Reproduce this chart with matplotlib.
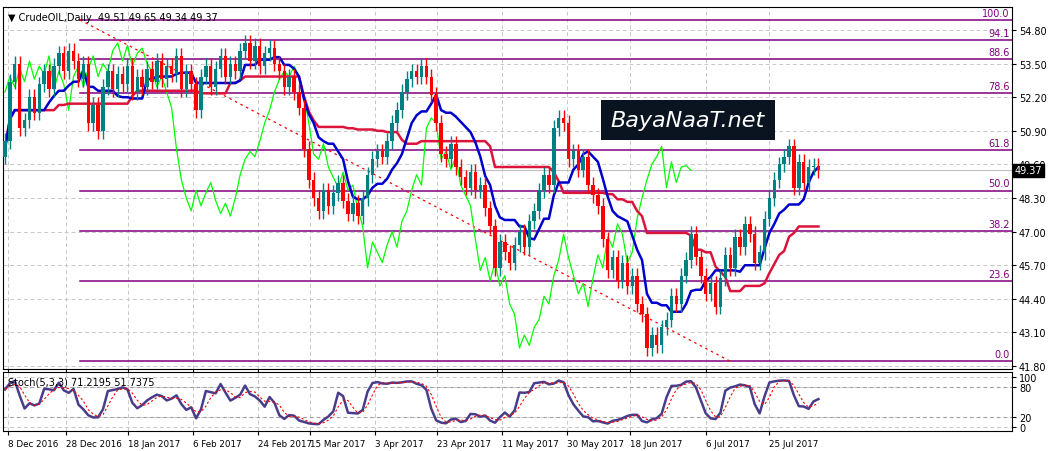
import matplotlib

matplotlib.use("Agg")

import matplotlib.pyplot as plt
import numpy as np
import pandas as pd

# daily closes
closes = [
    50.5, 52.8, 53.5, 51.0, 51.3, 52.2, 51.6, 52.7, 53.2, 52.5,
    53.4, 53.9, 53.2, 54.0, 53.6, 52.9, 53.5, 51.2, 51.9, 50.9,
    52.6, 53.2, 52.5, 53.1, 52.7, 53.4, 52.4, 53.0, 52.6, 53.3,
    52.8, 53.6, 52.9, 53.4, 53.1, 53.8, 52.5, 53.2, 52.7, 51.7,
    53.0, 53.4, 52.6, 53.3, 53.8, 53.0, 53.5, 53.2, 54.0, 54.3,
    53.6, 54.2, 53.4, 53.9, 54.1, 53.5, 53.2, 52.6, 53.0, 52.4,
    51.8, 50.2, 49.0, 48.3, 47.8, 48.6, 48.0, 48.5, 48.9, 48.2,
    47.7, 48.1, 47.6, 48.3, 49.2, 49.8, 50.1, 49.9, 50.5, 51.2,
    51.7, 52.4, 52.9, 53.2, 53.0, 53.4, 53.0, 52.3, 51.2, 50.0,
    49.8, 50.4, 49.5, 49.1, 48.7, 49.3, 48.6, 48.8, 47.9, 47.2,
    45.6, 46.6, 46.2, 45.8, 46.5, 47.0, 46.4, 47.4, 47.8, 48.6,
    49.2, 48.8, 51.0, 51.4, 51.2, 49.8, 50.1, 49.4, 49.9, 48.8,
    48.4, 48.0, 46.7, 45.5, 46.0, 45.1, 45.8, 44.9, 45.3, 44.2,
    43.8, 42.5, 43.0, 42.6, 43.3, 43.6, 44.5, 44.2, 45.3, 45.9,
    46.9, 46.0, 45.3, 44.6, 45.0, 44.1, 45.2, 46.1, 45.6, 46.8,
    46.4, 47.3, 46.9, 45.8, 46.2, 47.5, 48.3, 49.0, 49.6, 49.9,
    50.3, 48.7, 49.7, 48.9, 49.5, 49.55, 49.37,
]
first_open = 49.9
wick = 0.3

date_ticks = [0.6, 12.4, 25.1, 38.4, 51.6, 62.2, 75.5, 88.2, 101.4, 114.7, 127.6, 143.0, 156.0]
date_labels = ["8 Dec 2016", "28 Dec 2016", "18 Jan 2017", "6 Feb 2017", "24 Feb 2017",
               "15 Mar 2017", "3 Apr 2017", "23 Apr 2017", "11 May 2017", "30 May 2017",
               "18 Jun 2017", "6 Jul 2017", "25 Jul 2017"]
price_ticks = [54.80, 53.50, 52.20, 50.90, 49.60, 48.30, 47.00, 45.70, 44.40, 43.10, 41.80]
fib_low, fib_high = 41.99, 55.19
fib_levels = [0.0, 23.6, 38.2, 50.0, 61.8, 78.6, 88.6, 94.1, 100.0]

c = pd.Series(closes)
o = c.shift(1).fillna(first_open)
h = np.maximum(o, c) + wick
l = np.minimum(o, c) - wick
x = np.arange(len(c))

tenkan = (h.rolling(9, min_periods=1).max() + l.rolling(9, min_periods=1).min()) / 2
kijun = (h.rolling(26, min_periods=1).max() + l.rolling(26, min_periods=1).min()) / 2
ll = l.rolling(5, min_periods=1).min()
hh = h.rolling(5, min_periods=1).max()
k = 100 * (c - ll).rolling(2, min_periods=1).sum() / (hh - ll).rolling(2, min_periods=1).sum()
d = k.rolling(3, min_periods=1).mean()

W, H = 1053, 452
fig = plt.figure(figsize=(W / 100, H / 100), dpi=100, facecolor="white")
plt.rcParams["font.family"] = "DejaVu Sans"
ax = fig.add_axes([3 / W, 1 - 370 / H, 1009 / W, 362 / H])
ax2 = fig.add_axes([3 / W, 1 - 432 / H, 1009 / W, 59 / H], sharex=ax)

x0, x1 = -0.4, 205.5
ppu = 25.85
ax.set_xlim(x0, x1)
ax.set_ylim(54.80 - (370 - 31) / ppu, 54.80 + (31 - 8) / ppu)

for a in (ax, ax2):
    a.grid(True, color="#c8c8c8", ls=(0, (4, 3)), lw=0.7)
    for s in a.spines.values():
        s.set_color("black")
        s.set_linewidth(0.8)
    a.yaxis.tick_right()
    a.tick_params(axis="both", labelsize=7, length=3, pad=2)

ax.set_yticks(price_ticks)
ax.set_yticklabels([f"{p:.2f}" for p in price_ticks])
ax.tick_params(axis="x", labelbottom=False)

# fibo levels
fx0 = (80 - 5) / 4.9
for lv in fib_levels:
    y = fib_low + (fib_high - fib_low) * lv / 100
    ax.plot([fx0, x1], [y, y], color="#800080", lw=1.1, zorder=2)
    ax.text(x1 - 0.5, y + 0.08, f"{lv:.1f}", color="#800080", fontsize=7, ha="right", va="bottom")
ax.plot([fx0, (730 - 5) / 4.9], [fib_high, fib_low], color="red", ls=(0, (2, 3)), lw=0.9, zorder=2)

# indicators
ax.plot(x[: len(c) - 26], c.values[26:], color="#00ff00", lw=0.9, zorder=3)
ax.plot(x, kijun, color="#dc143c", lw=1.8, zorder=4)
ax.plot(x, tenkan, color="#0000cd", lw=1.8, zorder=4)

# candles
up = c >= o
for xi, oi, ci, hi, li, u in zip(x, o, c, h, l, up):
    col = "#008080" if u else "#ff0000"
    ax.vlines(xi, li, hi, color=col, lw=1.0, zorder=5)
    ax.bar(xi, max(abs(ci - oi), 0.05), bottom=min(oi, ci), width=0.7, color=col, zorder=6)

ax.axhline(closes[-1], color="#c0c0c0", lw=0.8, zorder=1)
ax.text(1.003, closes[-1], f"{closes[-1]:.2f}", transform=ax.get_yaxis_transform(),
        fontsize=7, color="white", va="center", ha="left", zorder=10,
        bbox=dict(facecolor="black", edgecolor="black", pad=1.2))

ax.text(0.005, 0.985, "▼ CrudeOIL,Daily  49.51 49.65 49.34 49.37", transform=ax.transAxes,
        fontsize=7, va="top", ha="left")

# watermark
ax.text((688 - 5) / 4.9, 54.80 - (121 - 31) / ppu, "BayaNaaT.net", fontsize=16, color="white",
        style="italic", ha="center", va="center", zorder=8,
        bbox=dict(facecolor="#0a1420", edgecolor="none", boxstyle="square,pad=0.45"))

# stochastic
ax2.set_ylim(-8, 110)
ax2.set_yticks([0, 20, 80, 100])
ax2.set_yticklabels(["0", "20", "80", "100"])
ax2.axhline(20, color="#a0a0a0", ls=(0, (3, 3)), lw=0.8)
ax2.axhline(80, color="#a0a0a0", ls=(0, (3, 3)), lw=0.8)
ax2.plot(x, k, color="#483d8b", lw=1.8)
ax2.plot(x, d, color="red", ls=(0, (2, 2)), lw=0.8)
ax2.text(0.005, 0.93, "Stoch(5,3,3) 71.2195 51.7375", transform=ax2.transAxes, fontsize=7, va="top")
ax2.set_xticks(date_ticks)
ax2.set_xticklabels(date_labels, ha="left")
ax2.tick_params(axis="x", labelsize=6.3, pad=3)

fig.savefig("out.png", dpi=100)
